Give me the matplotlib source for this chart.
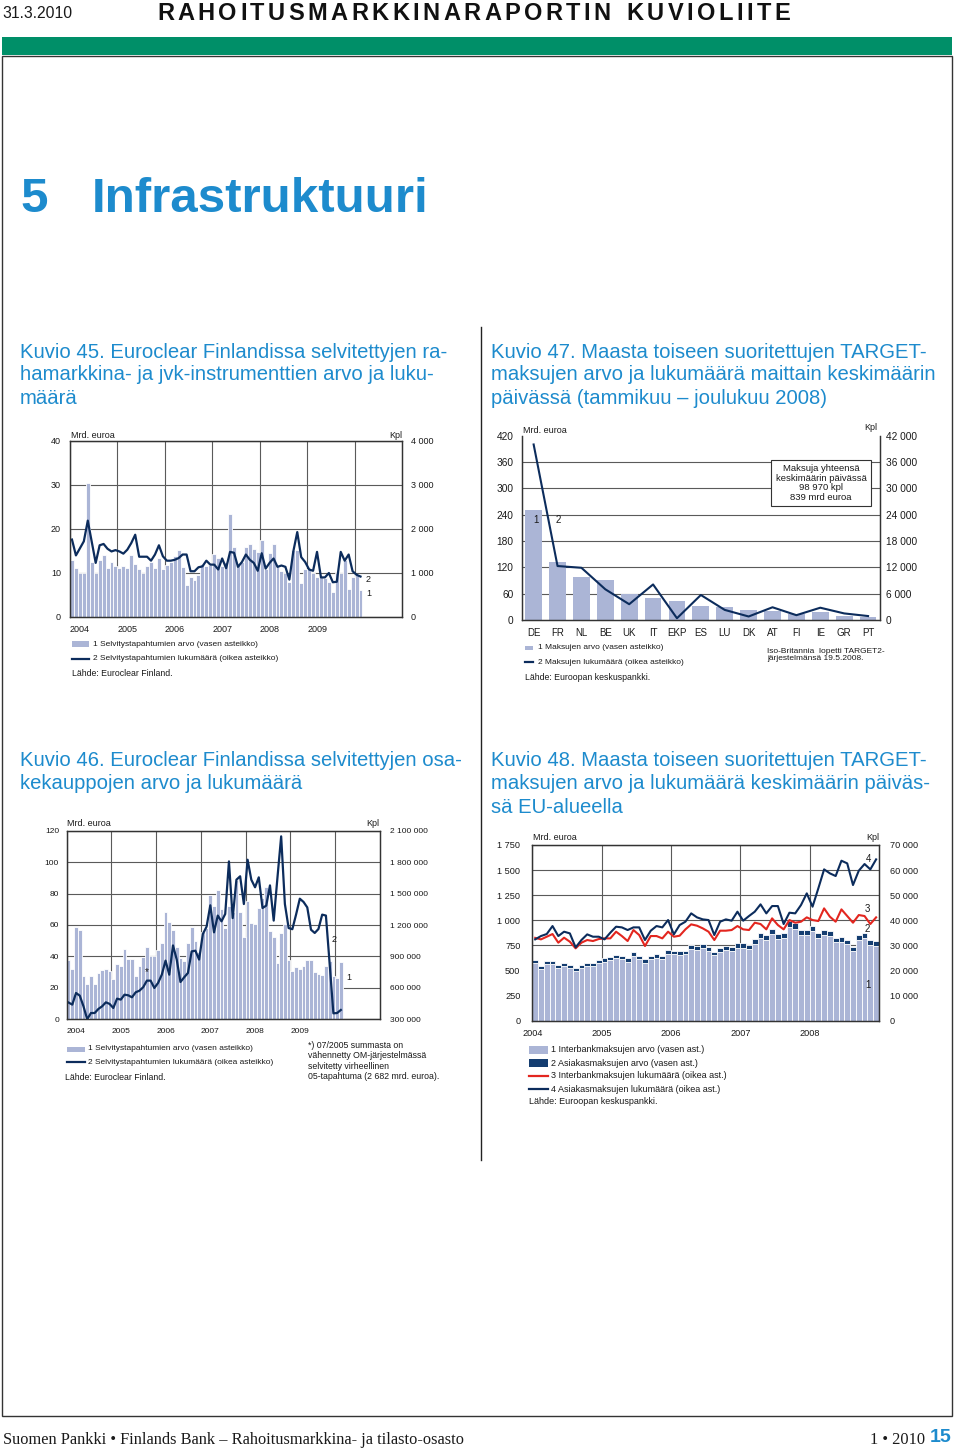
import matplotlib
matplotlib.use('Agg')
import matplotlib.pyplot as plt
import numpy as np
from matplotlib.patches import Rectangle
from matplotlib.lines import Line2D
from matplotlib.ticker import FuncFormatter

plt.rcParams['font.family'] = ['Liberation Sans', 'DejaVu Sans']

BLUE = '#1d8bcd'
BAR = '#abb5d6'
NAVY = '#0c2c5c'
RED = '#e3261f'
DARK = '#143d70'
GRID = '#5a5a5a'
TXT = '#1a1a1a'

# ---- Kuvio 45: monthly 1/2004 - 2/2010 ----
k45_years = ['2004', '2005', '2006', '2007', '2008', '2009']
k45_arvo = [13.0, 11.2, 10.0, 10.0, 30.5, 12.5, 10.0, 13.0, 14.0, 11.2, 12.5, 11.6,
            11.2, 11.5, 11.2, 14.0, 12.0, 11.0, 10.0, 11.6, 12.5, 11.2, 13.5, 11.0,
            11.8, 12.5, 13.8, 15.3, 11.3, 7.2, 9.2, 8.5, 9.5, 12.0, 11.5, 11.8,
            14.3, 13.5, 11.5, 12.5, 23.3, 15.8, 12.0, 12.5, 16.0, 16.5, 15.5, 14.8,
            17.5, 11.0, 14.5, 16.5, 11.5, 10.5, 10.0, 8.0, 15.3, 15.3, 7.8, 11.0,
            11.0, 10.0, 9.2, 9.2, 8.8, 8.0, 5.6, 10.0, 10.0, 13.0, 6.3, 9.0,
            9.8, 6.2]
k45_lkm = [1760, 1400, 1560, 1720, 2190, 1710, 1230, 1630, 1660, 1550, 1490, 1520,
           1490, 1440, 1530, 1680, 1870, 1370, 1370, 1370, 1280, 1420, 1630, 1380,
           1280, 1280, 1300, 1340, 1420, 1420, 1040, 1040, 1130, 1150, 1280, 1190,
           1190, 1080, 1330, 1110, 1480, 1460, 1140, 1250, 1420, 1300, 1230, 1050,
           1450, 1100, 1230, 1330, 1140, 1170, 1140, 850, 1490, 1930, 1360, 1250,
           1080, 1050, 1480, 900, 900, 1000, 790, 800, 1480, 1280, 1420, 1040,
           960, 920]

# ---- Kuvio 47: by country, 2008 ----
k47_maat = ['DE', 'FR', 'NL', 'BE', 'UK', 'IT', 'EKP', 'ES', 'LU', 'DK', 'AT', 'FI', 'IE', 'GR', 'PT']
k47_arvo = [250, 132, 99, 91, 59, 49, 44, 33, 29, 23, 20.5, 14, 17.5, 9, 7]
k47_lkm = [40000, 12300, 11900, 7000, 3600, 8100, 400, 5700, 2300, 800, 2900, 1100, 2800, 1500, 900]

# ---- Kuvio 46: monthly 1/2004 - 2/2010 ----
k46_years = ['2004', '2005', '2006', '2007', '2008', '2009']
k46_arvo = [38, 32.2, 59, 57, 27.8, 22.5, 27.6, 22.5, 29.7, 31.4, 32.2, 30.5,
            25.7, 35.2, 34.1, 44.7, 38.2, 38.2, 27.3, 34.1, 39.4, 46, 40, 40,
            43.9, 48.5, 68.3, 61.7, 57, 45.8, 39, 37.3, 48.5, 59, 49.8, 43,
            55.5, 58, 79, 72, 82, 70, 58, 72, 68, 88.5, 68, 52.5,
            75, 61, 60.5, 70.5, 77, 84, 56.5, 52.5, 36, 55, 60.5, 37.5,
            30.5, 33, 31.8, 34, 37.5, 37.5, 30, 29, 28, 33.7, 36.9, 27.8,
            26.3, 36.2]
k46_lkm = [460000, 440000, 551000, 526000, 424000, 300000, 360000, 360000, 399000, 424000, 462000, 447000,
           408000, 497000, 488000, 535000, 529000, 510000, 558000, 573000, 606000, 669000, 669000, 599000,
           647000, 726000, 860000, 726000, 1005000, 870000, 656000, 701000, 742000, 948000, 955000, 870000,
           1114000, 1184000, 1388000, 1130000, 1290000, 1235000, 1305000, 1807000, 1266000, 1632000, 1665000, 1400000,
           1823000, 1632000, 1560000, 1655000, 1362000, 1385000, 1578000, 1242000, 1650000, 2046000, 1400000, 1171000,
           1160000, 1300000, 1451000, 1420000, 1368000, 1155000, 1124000, 1162000, 1299000, 1290000, 830000, 357000,
           360000, 389000]

# ---- Kuvio 48: monthly 1/2004 - 12/2008 ----
k48_years = ['2004', '2005', '2006', '2007', '2008']
k48_interbank = [574, 517, 568, 564, 527, 548, 527, 494, 527, 541, 548, 572,
                 589, 605, 624, 611, 589, 646, 615, 579, 611, 629, 614, 668,
                 661, 655, 660, 714, 705, 721, 699, 651, 683, 704, 692, 729,
                 729, 713, 766, 823, 807, 860, 813, 823, 938, 918, 854, 854,
                 891, 827, 850, 846, 779, 788, 760, 692, 803, 825, 752, 743]
k48_asiakas = [30, 28, 30, 30, 28, 30, 28, 27, 28, 30, 30, 32,
               32, 33, 34, 33, 32, 35, 33, 32, 33, 35, 34, 36,
               36, 36, 37, 40, 39, 40, 38, 36, 38, 40, 39, 42,
               42, 41, 44, 47, 46, 50, 47, 47, 52, 52, 49, 49,
               52, 50, 50, 51, 48, 49, 47, 45, 50, 52, 48, 47]
k48_interbank_lkm = [33000, 32400, 33460, 34530, 31080, 33070, 31470, 28820, 31080, 32140, 31740, 32540,
                     32800, 32800, 35460, 33730, 31740, 36120, 34130, 29750, 33730, 33730, 32800, 35460,
                     33460, 33860, 36390, 38380, 37850, 36790, 35460, 32140, 35860, 35860, 36120, 37710,
                     36390, 36120, 39040, 38510, 36390, 40770, 38110, 36390, 40100, 39040, 39440, 41170,
                     40100, 39710, 44750, 41430, 39440, 44350, 41700, 39040, 42100, 41700, 38510, 41170]
k48_asiakas_lkm = [32400, 33730, 34530, 37710, 33730, 35460, 34790, 29200, 32140, 34390, 33460, 33460,
                   32400, 35060, 37450, 37180, 36120, 37180, 37180, 32140, 35860, 37710, 37180, 40100,
                   34390, 38110, 39440, 42760, 41170, 40370, 40100, 34130, 39440, 40370, 39840, 43430,
                   39840, 41700, 43430, 46350, 42760, 45680, 45680, 38510, 43030, 42760, 46080, 50730,
                   45420, 52720, 60290, 58700, 57640, 63740, 62680, 54050, 59760, 62420, 60290, 64270]

W, H = 960, 1450
fig = plt.figure(figsize=(W / 100, H / 100), dpi=100)


def box(l, t, r, b):
    return fig.add_axes([l / W, 1 - b / H, (r - l) / W, (b - t) / H])


def ftext(x, y, s, **kw):
    kw.setdefault('va', 'center')
    kw.setdefault('color', TXT)
    return fig.text(x / W, 1 - y / H, s, **kw)


def spaced(v, pos):
    return f'{v:,.0f}'.replace(',', ' ')


def patch_key(x, y, w, h, color):
    fig.add_artist(Rectangle((x / W, 1 - (y + h / 2) / H), w / W, h / H,
                             transform=fig.transFigure, color=color, lw=0))


def line_key(x, y, w, color, lw=1.6):
    fig.add_artist(Line2D([x / W, (x + w) / W], [1 - y / H, 1 - y / H],
                          transform=fig.transFigure, color=color, lw=lw))


def style(ax, ax2, size, lpad, rpad, xsize=None):
    ax.tick_params(axis='y', length=0, labelsize=size, pad=lpad, colors=TXT)
    ax2.tick_params(axis='y', length=0, labelsize=size, pad=rpad, colors=TXT)
    ax.tick_params(axis='x', length=0, labelsize=xsize or size, pad=6, colors=TXT)
    for a in (ax, ax2):
        for s in a.spines.values():
            s.set_color('#333333')
            s.set_linewidth(0.9)
    ax2.yaxis.set_major_formatter(FuncFormatter(spaced))
    ax.yaxis.set_major_formatter(FuncFormatter(spaced))


# ---------------- page furniture ----------------
ftext(2, 14, '31.3.2010', fontsize=11.3)
renderer = fig.canvas.get_renderer()
header = 'RAHOITUSMARKKINARAPORTIN KUVIOLIITE'
hk = dict(fontsize=17, fontweight='bold', color='#111111', va='center')
widths = []
for ch in header:
    if ch == ' ':
        widths.append(9.0)
        continue
    t = ftext(0, -100, ch, **hk)
    widths.append(t.get_window_extent(renderer).width)
    t.remove()
gap = (790 - 157 - sum(widths)) / (len(header) - 1)
xpos = 157
for ch, w in zip(header, widths):
    if ch != ' ':
        ftext(xpos, 13, ch, **hk)
    xpos += w + gap

fig.add_artist(Rectangle((2 / W, 1 - 55 / H), 950 / W, 18 / H, transform=fig.transFigure,
                         color='#008f68', lw=0))
fig.add_artist(Rectangle((2 / W, 1 - 1416 / H), 950 / W, (1416 - 56) / H, transform=fig.transFigure,
                         fill=False, edgecolor='#333333', lw=1.0))
fig.add_artist(Line2D([481 / W, 481 / W], [1 - 327 / H, 1 - 1160 / H], transform=fig.transFigure,
                      color='#222222', lw=1.0))

ftext(20, 200, '5', fontsize=35.5, fontweight='bold', color=BLUE)
ftext(92, 200, 'Infrastruktuuri', fontsize=35.5, fontweight='bold', color=BLUE)

tk = dict(fontsize=14.6, color=BLUE)
for i, s in enumerate(['Kuvio 45. Euroclear Finlandissa selvitettyjen ra-',
                       'hamarkkina- ja jvk-instrumenttien arvo ja luku-', 'määrä']):
    ftext(20, 352 + 23 * i, s, **tk)
for i, s in enumerate(['Kuvio 47. Maasta toiseen suoritettujen TARGET-',
                       'maksujen arvo ja lukumäärä maittain keskimäärin',
                       'päivässä (tammikuu – joulukuu 2008)']):
    ftext(491, 352 + 23 * i, s, **tk)
for i, s in enumerate(['Kuvio 46. Euroclear Finlandissa selvitettyjen osa-',
                       'kekauppojen arvo ja lukumäärä']):
    ftext(20, 760 + 23.5 * i, s, **tk)
for i, s in enumerate(['Kuvio 48. Maasta toiseen suoritettujen TARGET-',
                       'maksujen arvo ja lukumäärä keskimäärin päiväs-',
                       'sä EU-alueella']):
    ftext(491, 760 + 23.5 * i, s, **tk)

ftext(3, 1440, 'Suomen Pankki • Finlands Bank – Rahoitusmarkkina- ja tilasto-osasto',
      fontsize=11.8, family='Liberation Serif')
ftext(925, 1440, '1 • 2010', fontsize=11.8, family='Liberation Serif', ha='right')
ftext(930, 1438, '15', fontsize=14, fontweight='bold', color=BLUE)

bar_kw = dict(width=1.0, edgecolor='white', linewidth=0.6, zorder=2)

# ---------------- Kuvio 45 ----------------
ax = box(70, 441, 402, 617)
ax2 = ax.twinx()
m45 = np.arange(len(k45_arvo)) + 0.5
ax.bar(m45, k45_arvo, color=BAR, **bar_kw)
ax2.plot(m45, k45_lkm, color=NAVY, lw=1.6)
ax.set_xlim(0, 84)
ax.set_ylim(0, 40)
ax2.set_ylim(0, 4000)
ax.set_yticks(range(0, 41, 10))
ax2.set_yticks(range(0, 4001, 1000))
ax.set_xticks(range(0, 73, 12))
ax.set_xticklabels(k45_years + [''], ha='left')
ax.grid(True, color=GRID, lw=0.8)
ax.set_axisbelow(True)
style(ax, ax2, 6.5, 6.5, 6.5)
ftext(71, 435, 'Mrd. euroa', fontsize=6.5)
ftext(402, 435, 'Kpl', fontsize=6.5, ha='right')
ftext(366, 579, '2', fontsize=6.5)
ftext(366, 594, '1', fontsize=6.5)
patch_key(72, 644, 17, 6, BAR)
ftext(93, 645, '1 Selvitystapahtumien arvo (vasen asteikko)', fontsize=6)
line_key(72, 659, 17, NAVY)
ftext(93, 659, '2 Selvitystapahtumien lukumäärä (oikea asteikko)', fontsize=6)
ftext(72, 673, 'Lähde: Euroclear Finland.', fontsize=6.3)

# ---------------- Kuvio 47 ----------------
ax = box(521.7, 435.7, 880, 620)
ax2 = ax.twinx()
xc = np.arange(len(k47_maat))
ax.bar(xc, k47_arvo, width=0.7, color=BAR, zorder=2)
ax2.plot(xc, k47_lkm, color=NAVY, lw=1.5)
ax.set_xlim(-0.5, len(k47_maat) - 0.5)
ax.set_ylim(0, 420)
ax2.set_ylim(0, 42000)
ax.set_yticks(range(0, 421, 60))
ax2.set_yticks(range(0, 42001, 6000))
for v in range(60, 361, 60):
    ax.axhline(v, color=GRID, lw=0.8, zorder=1)
ax.set_xticks(xc)
ax.set_xticklabels(k47_maat)
style(ax, ax2, 7.3, 6, 4, xsize=7)
ax.spines['top'].set_visible(False)
ax2.spines['top'].set_visible(False)
ftext(523, 431, 'Mrd. euroa', fontsize=6.5)
ftext(877, 427, 'Kpl', fontsize=6.5, ha='right')
ftext(533, 520, '1', fontsize=7)
ftext(556, 520, '2', fontsize=7)
ftext(821, 483, 'Maksuja yhteensä\nkeskimäärin päivässä\n98 970 kpl\n839 mrd euroa',
      fontsize=6.8, ha='center', linespacing=1.05,
      bbox=dict(boxstyle='square,pad=0.45', facecolor='white', edgecolor='#333333', lw=0.8))
patch_key(525, 648, 8, 4, BAR)
ftext(538, 648, '1 Maksujen arvo (vasen asteikko)', fontsize=6)
line_key(525, 662, 8, NAVY)
ftext(538, 662, '2 Maksujen lukumäärä (oikea asteikko)', fontsize=6)
ftext(525, 677, 'Lähde: Euroopan keskuspankki.', fontsize=6.3)
ftext(767, 655, 'Iso-Britannia  lopetti TARGET2-\njärjestelmänsä 19.5.2008.', fontsize=6,
      linespacing=1.1)

# ---------------- Kuvio 46 ----------------
ax = box(66.7, 830.7, 380, 1019.3)
ax2 = ax.twinx()
m46 = np.arange(len(k46_arvo)) + 0.5
ax.bar(m46, k46_arvo, color=BAR, **bar_kw)
ax2.plot(m46, k46_lkm, color=NAVY, lw=1.6)
ax.set_xlim(0, 84)
ax.set_ylim(0, 120)
ax2.set_ylim(300000, 2100000)
ax.set_yticks(range(0, 121, 20))
ax2.set_yticks(range(300000, 2100001, 300000))
ax.set_xticks(range(0, 73, 12))
ax.set_xticklabels(k46_years + [''], ha='left')
ax.grid(True, color=GRID, lw=0.8)
ax.set_axisbelow(True)
style(ax, ax2, 6.0, 5.5, 7)
ftext(67, 824, 'Mrd. euroa', fontsize=6.5)
ftext(379, 823, 'Kpl', fontsize=6.5, ha='right')
ftext(332, 939, '2', fontsize=6.5)
ftext(346, 978, '1', fontsize=6.5)
ftext(147, 972, '*', fontsize=7, ha='center')
patch_key(67, 1049, 18, 5, BAR)
ftext(88, 1049, '1 Selvitystapahtumien arvo (vasen asteikko)', fontsize=6)
line_key(67, 1062, 18, NAVY)
ftext(88, 1062, '2 Selvitystapahtumien lukumäärä (oikea asteikko)', fontsize=6)
ftext(65, 1077, 'Lähde: Euroclear Finland.', fontsize=6.3)
for i, s in enumerate(['*) 07/2005 summasta on', 'vähennetty OM-järjestelmässä',
                       'selvitetty virheellinen', '05-tapahtuma (2 682 mrd. euroa).']):
    ftext(308, 1045 + 10.6 * i, s, fontsize=6.3)

# ---------------- Kuvio 48 ----------------
ax = box(532.3, 845, 879, 1020.7)
ax2 = ax.twinx()
m48 = np.arange(len(k48_interbank)) + 0.5
ax.bar(m48, k48_interbank, color=BAR, **bar_kw)
ax.bar(m48, k48_asiakas, bottom=k48_interbank, color=DARK, **bar_kw)
ax2.plot(m48, k48_interbank_lkm, color=RED, lw=1.5)
ax2.plot(m48, k48_asiakas_lkm, color=NAVY, lw=1.5)
ax.set_xlim(0, 60)
ax.set_ylim(0, 1750)
ax2.set_ylim(0, 70000)
ax.set_yticks(range(0, 1751, 250))
ax2.set_yticks(range(0, 70001, 10000))
ax.set_xticks(range(0, 49, 12))
ax.set_xticklabels(k48_years)
ax.grid(True, color=GRID, lw=0.8)
ax.set_axisbelow(True)
style(ax, ax2, 6.6, 8.5, 8)
ftext(533, 838, 'Mrd. euroa', fontsize=6.5)
ftext(879, 838, 'Kpl', fontsize=6.5, ha='right')
ftext(866, 859, '4', fontsize=7)
ftext(865, 909, '3', fontsize=7)
ftext(865, 929, '2', fontsize=7)
ftext(865, 985, '1', fontsize=7)
patch_key(529, 1050, 19, 8, BAR)
ftext(551, 1050, '1 Interbankmaksujen arvo (vasen ast.)', fontsize=6.5)
patch_key(529, 1063, 19, 8, DARK)
ftext(551, 1063, '2 Asiakasmaksujen arvo (vasen ast.)', fontsize=6.5)
line_key(529, 1076, 19, RED)
ftext(551, 1076, '3 Interbankmaksujen lukumäärä (oikea ast.)', fontsize=6.5)
line_key(529, 1089, 19, NAVY)
ftext(551, 1089, '4 Asiakasmaksujen lukumäärä (oikea ast.)', fontsize=6.5)
ftext(529, 1102, 'Lähde: Euroopan keskuspankki.', fontsize=6.5)

fig.savefig('out.png', dpi=100)
